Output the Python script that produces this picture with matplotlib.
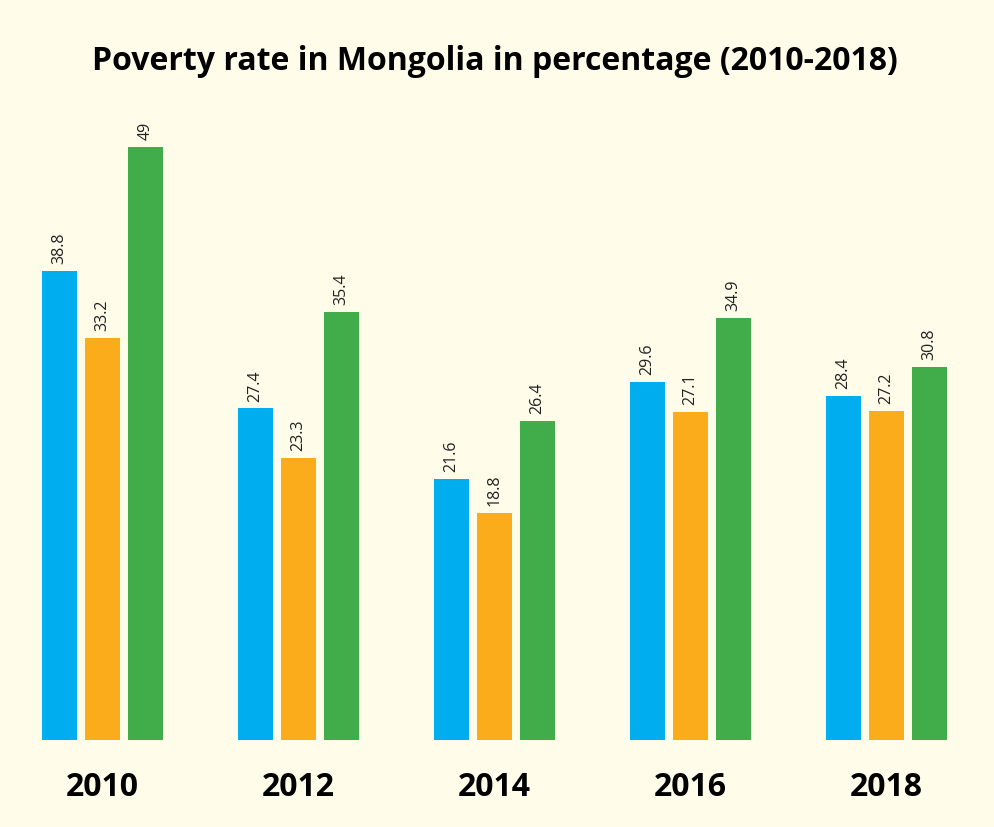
import matplotlib
matplotlib.use('Agg')
import matplotlib.pyplot as plt
import numpy as np

plt.rcParams['font.family'] = ['Open Sans', 'DejaVu Sans']

years = ['2010', '2012', '2014', '2016', '2018']
blue_vals = [38.8, 27.4, 21.6, 29.6, 28.4]
orange_vals = [33.2, 23.3, 18.8, 27.1, 27.2]
green_vals = [49, 35.4, 26.4, 34.9, 30.8]
colors = ['#00AEEF', '#FBAC1A', '#41AD4A']
bg = '#FFFDE9'

fig = plt.figure(figsize=(9.94, 8.27), dpi=100, facecolor=bg)
ax = fig.add_axes([0, 87/827, 1, 640/827])
ax.set_facecolor(bg)

x = np.arange(len(years))
w = 35/196
off = 43/196
for k, vals in enumerate([blue_vals, orange_vals, green_vals]):
    xs = x + (k - 1)*off
    ax.bar(xs, vals, width=w, color=colors[k])
    for xi, v in zip(xs, vals):
        ax.annotate(f'{v:g}', (xi, v), xytext=(0, 5), textcoords='offset points',
                    rotation=90, ha='center', va='bottom', fontsize=11.5,
                    color='#222222')

ax.set_xlim(-102.5/196, (994-102.5)/196)
ax.set_ylim(0, 640/12.1)
ax.set_xticks(x)
ax.set_xticklabels(years, fontsize=23, fontweight='bold')
ax.tick_params(axis='x', length=0, pad=22)
ax.set_yticks([])
for s in ax.spines.values():
    s.set_visible(False)

fig.text(0.498, 1 - 62/827, 'Poverty rate in Mongolia in percentage (2010-2018)',
         ha='center', va='center', fontsize=23, fontweight='bold')

fig.savefig('out.png', dpi=100, facecolor=bg)
